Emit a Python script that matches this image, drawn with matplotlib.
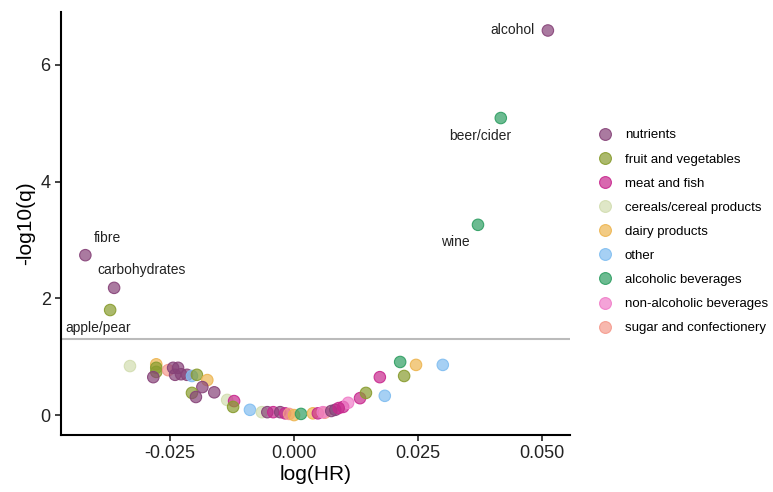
import matplotlib.pyplot as plt
from matplotlib.colors import to_rgba
from matplotlib.lines import Line2D

plt.rcParams['font.family'] = ['Liberation Sans', 'DejaVu Sans']

# ----------------------------
# data
# ----------------------------
categories = ["nutrients", "fruit and vegetables", "meat and fish",
              "cereals/cereal products", "dairy products", "other",
              "alcoholic beverages", "non-alcoholic beverages",
              "sugar and confectionery"]
cat_colors = ["#864278", "#889C2E", "#C8288E", "#D2DDB0", "#EDB550",
              "#80BDF0", "#2E9E62", "#F07CC8", "#F59A8C"]

log_hr = [0.0512, 0.0417, 0.0371, -0.0421, -0.0363, -0.0371,
          -0.0331, -0.0278, -0.0278, -0.0278, -0.0284, -0.0254,
          -0.0244, -0.0234, -0.0240, -0.0228, -0.0216, -0.0206,
          -0.0196, -0.0175, -0.0185, -0.0206, -0.0198, -0.0161,
          -0.0135, -0.0121, -0.0123, -0.0089, -0.0065, -0.0054,
          -0.0042, -0.0028, -0.0018, -0.0010, 0.0000, 0.0014,
          0.0038, 0.0048, 0.0062, 0.0058, 0.0083, 0.0099,
          0.0109, 0.0133, 0.0145, 0.0183, 0.0173, 0.0222,
          0.0214, 0.0246, 0.0300, 0.0075, 0.0090]
neg_log_q = [6.59, 5.09, 3.26, 2.74, 2.18, 1.80,
             0.84, 0.87, 0.81, 0.74, 0.65, 0.77,
             0.81, 0.81, 0.69, 0.70, 0.69, 0.67,
             0.69, 0.60, 0.48, 0.38, 0.31, 0.39,
             0.26, 0.24, 0.14, 0.09, 0.05, 0.05,
             0.05, 0.05, 0.03, 0.02, 0.00, 0.02,
             0.03, 0.03, 0.04, 0.05, 0.09, 0.14,
             0.21, 0.29, 0.38, 0.33, 0.65, 0.67,
             0.91, 0.86, 0.86, 0.07, 0.12]
point_cat = [0, 6, 6, 0, 0, 1,
             3, 4, 1, 1, 0, 8,
             0, 0, 0, 0, 0, 5,
             1, 4, 0, 1, 0, 0,
             3, 2, 1, 5, 3, 0,
             2, 0, 2, 8, 4, 6,
             4, 2, 8, 7, 0, 2,
             7, 2, 1, 5, 2, 1,
             6, 4, 5, 0, 2]

labels = ["alcohol", "beer/cider", "wine", "fibre", "carbohydrates", "apple/pear"]
q_threshold = 1.301  # -log10(0.05)

# ----------------------------
# plot
# ----------------------------
fig = plt.figure(figsize=(7.73, 4.92), dpi=100)
ax = fig.add_axes([0.079, 0.116, 0.658, 0.86])

ax.axhline(q_threshold, color="#BBBBBB", lw=1.5, zorder=1)
face = [to_rgba(cat_colors[c], 0.7) for c in point_cat]
edge = [to_rgba(cat_colors[c], 0.9) for c in point_cat]
ax.scatter(log_hr, neg_log_q, facecolors=face, edgecolors=edge,
           s=68, linewidths=0.8, zorder=2)

# label offsets in pixels: (dx, dy, ha)
offsets = [(-13, 0, "right"), (-21, -18, "center"), (-23, -17, "center"),
           (8, 17, "left"), (-17, 18, "left"), (-45, -18, "left")]
for i, lab in enumerate(labels):
    dx, dy, ha = offsets[i]
    ax.annotate(lab, (log_hr[i], neg_log_q[i]), xytext=(dx, dy),
                textcoords="offset pixels", ha=ha, va="center",
                fontsize=10, color="#222222")

ax.set_xlim(-0.047, 0.0556)
ax.set_ylim(-0.34, 6.91)
ax.set_xticks([-0.025, 0.0, 0.025, 0.05])
ax.set_xticklabels(["-0.025", "0.000", "0.025", "0.050"])
ax.set_yticks([0, 2, 4, 6])
ax.set_xlabel("log(HR)", fontsize=15, labelpad=2)
ax.set_ylabel("-log10(q)", fontsize=15, labelpad=4)

for s in ["top", "right"]:
    ax.spines[s].set_visible(False)
for s in ["left", "bottom"]:
    ax.spines[s].set_linewidth(1.5)
ax.tick_params(labelsize=13, length=4, width=1.2, colors="#222222")

handles = [Line2D([], [], marker="o", ls="", markerfacecolor=to_rgba(col, 0.7),
                  markeredgecolor=to_rgba(col, 0.9), markersize=8.5,
                  markeredgewidth=0.8) for col in cat_colors]
fig.legend(handles, categories, loc="center left",
           bbox_to_anchor=(0.757, 0.529), frameon=False, fontsize=9.5,
           labelspacing=0.9, handletextpad=0.9, handlelength=1.2)

fig.savefig("out.png", dpi=100)
